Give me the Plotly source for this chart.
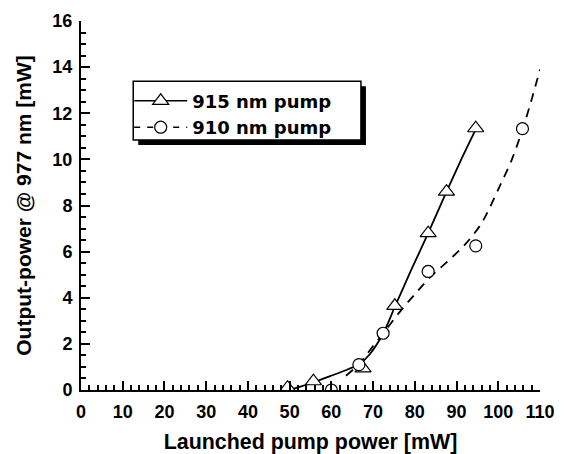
import plotly.graph_objects as go

# ---- data ----
pump915_x = [49.5, 55.7, 67.6, 75.2, 83.2, 87.6, 94.6]
pump915_y = [0.1, 0.38, 0.94, 3.65, 6.8, 8.6, 11.35]

pump910_x = [60.0, 66.6, 72.4, 83.2, 94.6, 105.8]
pump910_y = [0.0, 1.1, 2.46, 5.14, 6.25, 11.33]

fit915_x = [50, 55.7, 59.7, 64, 66.7, 69.2, 72.4, 75.2, 79, 83.2, 87.6, 91, 94.6]
fit915_y = [0, 0.33, 0.6, 0.9, 1.12, 1.55, 2.45, 3.6, 5.15, 6.8, 8.6, 9.95, 11.3]

fit910_x = [63.5, 66.6, 70, 72.4, 76, 80, 84, 88, 92, 96, 100, 103.2, 106, 108, 110]
fit910_y = [0.62, 1.12, 1.9, 2.45, 3.3, 4.15, 4.95, 5.6, 6.3, 7.23, 8.7, 9.97, 11.4, 12.6, 13.9]

x_ticks = list(range(0, 111, 10))
y_ticks = list(range(0, 17, 2))

FONT = "Liberation Sans, Arial, sans-serif"
LEGEND_FONT = "DejaVu Sans, Liberation Sans, sans-serif"

fig = go.Figure()

# fitted curves
fig.add_trace(go.Scatter(x=fit915_x, y=fit915_y, mode="lines",
                         line=dict(color="black", width=1.8, shape="spline", smoothing=0.8),
                         showlegend=False, hoverinfo="skip"))
fig.add_trace(go.Scatter(x=fit910_x, y=fit910_y, mode="lines",
                         line=dict(color="black", width=1.8, dash="9px,7px", shape="spline", smoothing=0.8),
                         showlegend=False, hoverinfo="skip"))
# markers
fig.add_trace(go.Scatter(x=pump915_x, y=pump915_y, mode="markers",
                         marker=dict(symbol="triangle-up", size=14, color="white",
                                     line=dict(color="black", width=1.2)),
                         showlegend=False))
fig.add_trace(go.Scatter(x=pump910_x, y=pump910_y, mode="markers",
                         marker=dict(symbol="circle", size=12, color="white",
                                     line=dict(color="black", width=1.2)),
                         showlegend=False))
# legend entries
fig.add_trace(go.Scatter(x=[None], y=[None], mode="lines+markers", name="915 nm pump",
                         line=dict(color="black", width=1.5),
                         marker=dict(symbol="triangle-up", size=14, color="white",
                                     line=dict(color="black", width=1.2))))
fig.add_trace(go.Scatter(x=[None], y=[None], mode="lines+markers", name="910 nm pump",
                         line=dict(color="black", width=1.5, dash="6px,7px"),
                         marker=dict(symbol="circle", size=12, color="white",
                                     line=dict(color="black", width=1.2))))

axis_common = dict(
    showline=True, linecolor="black", linewidth=2, mirror=False,
    showgrid=False, zeroline=False, automargin=False,
    ticks="inside", ticklen=9, tickwidth=1.5, tickcolor="black",
    tickfont=dict(family=FONT, size=18, color="black", weight="bold"),
)

fig.update_xaxes(range=[0, 110], tickvals=x_ticks,
                 minor=dict(dtick=2, ticks="inside", ticklen=5, tickwidth=1.5, tickcolor="black"),
                 ticklabelstandoff=4,
                 title=dict(text="Launched pump power [mW]", standoff=14,
                            font=dict(family=FONT, size=21.4, color="black", weight="bold")),
                 **axis_common)
fig.update_yaxes(range=[0, 16], tickvals=y_ticks,
                 minor=dict(dtick=0.5, ticks="inside", ticklen=5, tickwidth=1.5, tickcolor="black"),
                 ticklabelstandoff=3,
                 title=dict(text="Output-power @ 977 nm [mW]",
                            font=dict(family=FONT, size=21, color="black", weight="bold")),
                 **axis_common)

# legend frame with drop shadow
fig.add_shape(type="rect", xref="paper", yref="paper",
              x0=0.1247, x1=0.6208, y0=0.6639, y1=0.8234,
              fillcolor="black", line=dict(width=0), layer="above")
fig.add_shape(type="rect", xref="paper", yref="paper",
              x0=0.1138, x1=0.6099, y0=0.6774, y1=0.8369,
              fillcolor="white", line=dict(color="black", width=1.5), layer="above")

# page body has an 8px default margin: the figure is sized/offset to fill the 564x454 window
fig.update_layout(
    width=556, height=446,
    margin=dict(l=72.7, r=23.7, t=12.7, b=63.5),
    paper_bgcolor="white", plot_bgcolor="white",
    showlegend=True,
    legend=dict(x=0.105, y=0.833, xanchor="left", yanchor="top",
                bgcolor="rgba(0,0,0,0)", borderwidth=0,
                itemwidth=53, tracegroupgap=0,
                font=dict(family=LEGEND_FONT, size=18, color="black", weight="bold")),
)

fig.write_html("out.html")
